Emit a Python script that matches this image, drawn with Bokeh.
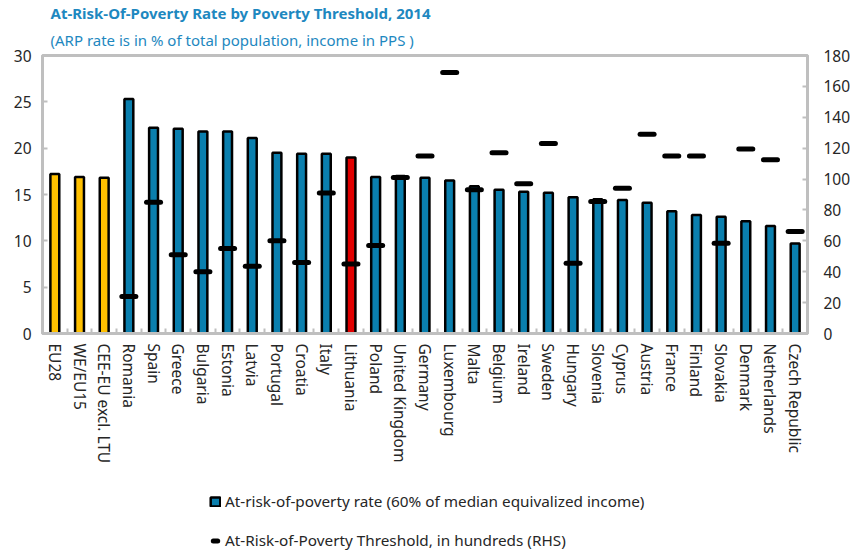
from bokeh.plotting import figure
from bokeh.layouts import column
from bokeh.models import (Range1d, LinearAxis, FixedTicker, ColumnDataSource,
                          Title, Legend, LegendItem)
from bokeh.embed import file_html
from bokeh.resources import INLINE

# ---------------- data ----------------
countries = ["EU28", "WE/EU15", "CEE-EU excl. LTU", "Romania", "Spain", "Greece",
             "Bulgaria", "Estonia", "Latvia", "Portugal", "Croatia", "Italy",
             "Lithuania", "Poland", "United Kingdom", "Germany", "Luxembourg",
             "Malta", "Belgium", "Ireland", "Sweden", "Hungary", "Slovenia",
             "Cyprus", "Austria", "France", "Finland", "Slovakia", "Denmark",
             "Netherlands", "Czech Republic"]
arp_rate = [17.2, 16.9, 16.8, 25.3, 22.2, 22.1, 21.8, 21.8, 21.1, 19.5, 19.4,
            19.4, 19.0, 16.9, 17.0, 16.8, 16.5, 15.9, 15.5, 15.3, 15.2, 14.7,
            14.5, 14.4, 14.1, 13.2, 12.8, 12.6, 12.1, 11.6, 9.7]
threshold_hundreds = [float("nan"), float("nan"), float("nan"), 24, 85, 51, 40,
                      55, 43.5, 60, 46, 91, 45, 57, 101, 115, 169, 93, 117, 97,
                      123, 45.5, 85.5, 94, 129, 115, 115, 58.5, 119.5, 112.5, 66]
aggregates = ["EU28", "WE/EU15", "CEE-EU excl. LTU"]
highlight = "Lithuania"
left_ticks = [0, 5, 10, 15, 20, 25, 30]
right_ticks = [0, 20, 40, 60, 80, 100, 120, 140, 160, 180]

title_text = "At-Risk-Of-Poverty Rate by Poverty Threshold, 2014"
subtitle_text = "(ARP rate is in % of total population, income in PPS )"
legend_bar = "At-risk-of-poverty rate (60% of median equivalized income)"
legend_dash = "At-Risk-of-Poverty Threshold, in hundreds (RHS)"

# ---------------- styles ----------------
BLUE = "#0A7FAE"
YELLOW = "#FFC000"
RED = "#E00000"
TITLE_BLUE = "#1E88C0"
GRAY = "#BFBFBF"
TEXT = "#262626"
FONT = "Noto Sans"
AXIS_FS = "15.5px"
LEG_FS = "15.3px"
TITLE_FS = "15px"

colors = [YELLOW if c in aggregates else (RED if c == highlight else BLUE)
          for c in countries]
xs = list(range(len(countries)))

src = ColumnDataSource(dict(x=xs, rate=arp_rate, thr=threshold_hundreds,
                            color=colors))

p = figure(width=853, height=490, x_range=Range1d(-0.5, len(countries) - 0.5),
           y_range=Range1d(0, 30), output_backend="svg", toolbar_location=None,
           min_border_left=42, min_border_right=44, min_border_top=55,
           min_border_bottom=157)
p.title.text = ""
p.title.visible = False
p.xgrid.visible = False
p.ygrid.visible = False
p.outline_line_color = GRAY
p.outline_line_width = 3
p.background_fill_color = "white"
p.border_fill_color = "white"

p.extra_y_ranges = {"rhs": Range1d(0, 180)}


def style_axis(ax):
    ax.axis_line_color = GRAY
    ax.axis_line_width = 3
    ax.major_tick_line_color = GRAY
    ax.major_tick_line_width = 2
    ax.major_tick_in = 5
    ax.major_tick_out = 0
    ax.minor_tick_line_color = None
    ax.major_label_text_font = FONT
    ax.major_label_text_font_size = AXIS_FS
    ax.major_label_text_color = TEXT


left = p.yaxis[0]
left.ticker = FixedTicker(ticks=left_ticks)
style_axis(left)
left.major_label_standoff = 11

right = LinearAxis(y_range_name="rhs", ticker=FixedTicker(ticks=right_ticks))
style_axis(right)
right.major_label_standoff = 16
p.add_layout(right, "right")

xax = p.xaxis[0]
xax.ticker = FixedTicker(ticks=xs, minor_ticks=[i - 0.5 for i in range(len(countries) + 1)])
xax.major_label_overrides = {i: c for i, c in enumerate(countries)}
xax.major_label_orientation = "vertical"
style_axis(xax)
xax.major_tick_line_color = None
xax.minor_tick_line_color = GRAY
xax.minor_tick_line_width = 2
xax.minor_tick_in = 5
xax.minor_tick_out = 0
xax.major_label_standoff = 10

bars = p.vbar(x="x", top="rate", width=0.36, fill_color="color",
              line_color="black", line_width=2.5, source=src)
dashes = p.scatter(x="x", y="thr", marker="dash", size=14, line_width=5,
                   line_color="black", line_cap="round", y_range_name="rhs",
                   source=src)

p.add_layout(Title(text=subtitle_text, text_font=FONT, text_font_size=TITLE_FS,
                   text_font_style="normal", text_color=TITLE_BLUE,
                   align="left", offset=8, standoff=11), "above")
p.add_layout(Title(text=title_text, text_font=FONT, text_font_size=TITLE_FS,
                   text_font_style="bold", text_color=TITLE_BLUE,
                   align="left", offset=8, standoff=0), "above")

# ---------------- legend strip below the chart ----------------
# legend-only proxy glyphs (one undrawable NaN point each) carrying the styles
p2 = figure(width=853, height=60, x_range=Range1d(0, 1), y_range=Range1d(0, 1),
            output_backend="svg", toolbar_location=None,
            x_axis_location=None, y_axis_location=None, min_border=0)
p2.title.visible = False
p2.xgrid.visible = False
p2.ygrid.visible = False
p2.outline_line_color = None
p2.border_fill_color = "white"
p2.background_fill_color = "white"

nan = float("nan")
leg_bar = p2.vbar(x=[nan], top=[nan], width=0.36, fill_color=BLUE,
                  line_color="black", line_width=2.5)
leg_dash = p2.scatter(x=[nan], y=[nan], marker="dash", size=14, line_width=5,
                      line_color="black", line_cap="round")

legend = Legend(items=[LegendItem(label=legend_bar, renderers=[leg_bar]),
                       LegendItem(label=legend_dash, renderers=[leg_dash])],
                location=(167, 0), orientation="vertical",
                padding=0, margin=0, spacing=19, glyph_width=12,
                glyph_height=11, label_height=20, label_standoff=4,
                label_text_font=FONT, label_text_font_size=LEG_FS,
                label_text_color=TEXT, border_line_color=None,
                background_fill_alpha=0)
p2.add_layout(legend)

layout = column(p, p2, spacing=0)
open("out.html", "w").write(file_html(layout, INLINE))
